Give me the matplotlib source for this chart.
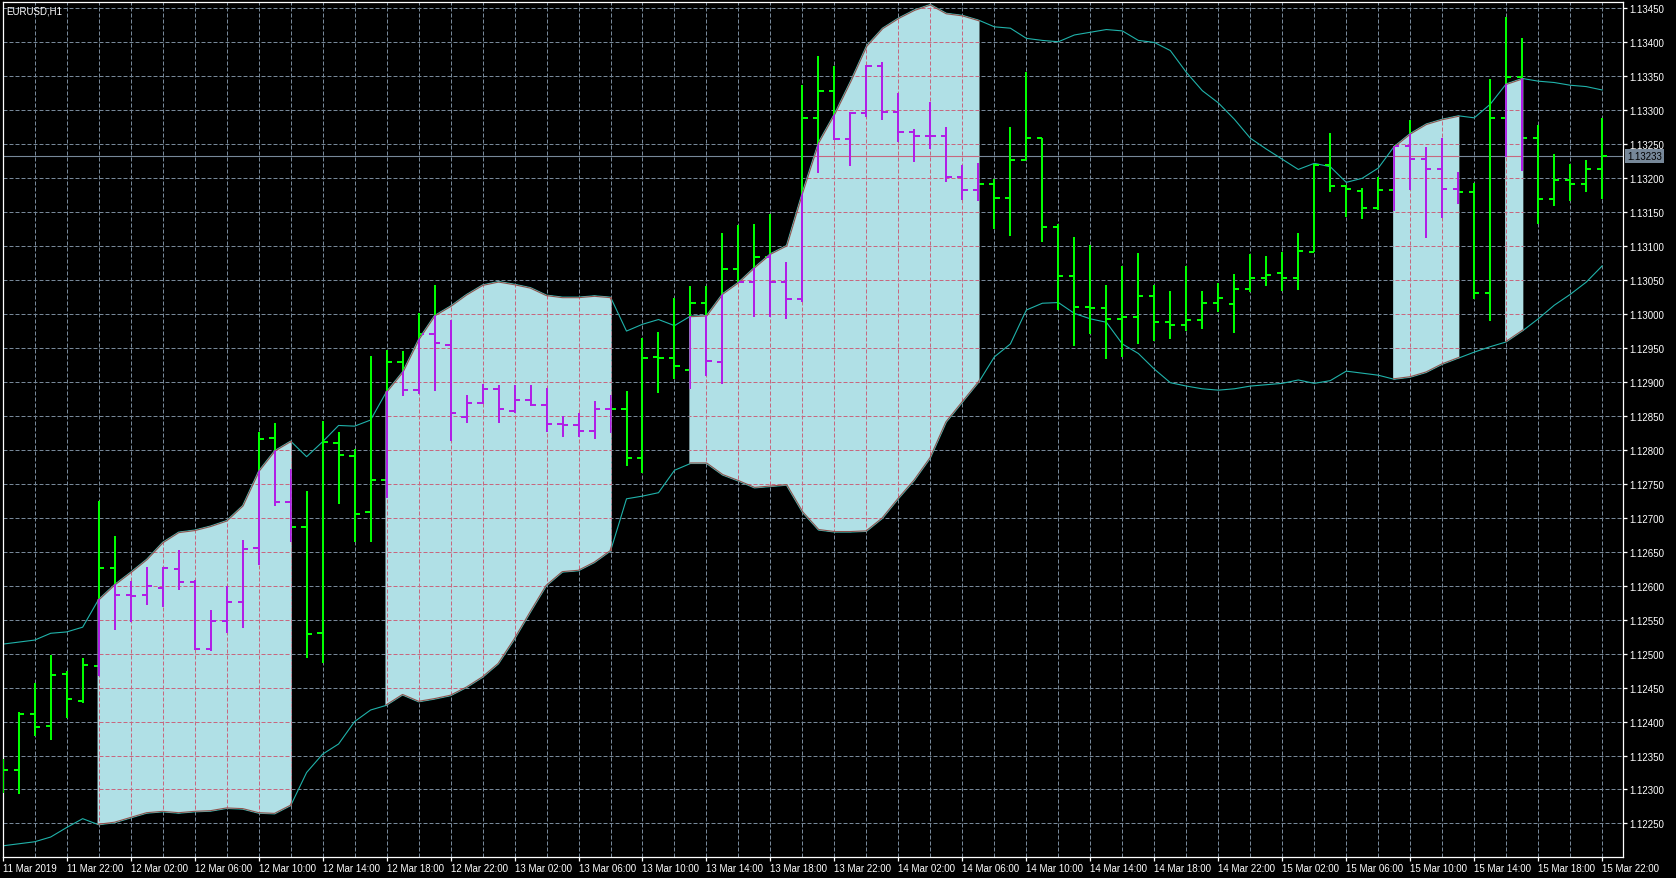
import matplotlib
matplotlib.use("Agg")
import matplotlib.pyplot as plt
import matplotlib.transforms as mtransforms
from matplotlib.collections import LineCollection
from matplotlib.patches import PathPatch
from matplotlib.path import Path

# MT4 風格圖表：EURUSD H1 + 布林通道
plt.rcParams['font.family'] = ['Liberation Sans', 'DejaVu Sans']

# --- 數據 (11 Mar 18:00 -> 15 Mar 22:00, 每小時一根) ---
opens = [1.12310, 1.12328, 1.12411, 1.12394, 1.12470, 1.12431, 1.12482, 1.12626, 1.12586, 1.12586,
         1.12597, 1.12625, 1.12606, 1.12507, 1.12548, 1.12576, 1.12655, 1.12817, 1.12723, 1.12686,
         1.12530, 1.12810, 1.12791, 1.12708, 1.12756, 1.12930, 1.12888, 1.12970, 1.12955, 1.12848,
         1.12869, 1.12890, 1.12857, 1.12873, 1.12866, 1.12838, 1.12836, 1.12828, 1.12860, 1.12860,
         1.12788, 1.12937, 1.12935, 1.12918, 1.13016, 1.12930, 1.13066, 1.13047, 1.13084, 1.13047,
         1.13022, 1.13289, 1.13329, 1.13258, 1.13296, 1.13366, 1.13298, 1.13268, 1.13262, 1.13262,
         1.13202, 1.13183, 1.13191, 1.13171, 1.13227, 1.13259, 1.13128, 1.13056, 1.13011, 1.13009,
         1.12993, 1.12996, 1.13027, 1.12989, 1.12984, 1.12992, 1.13017, 1.13015, 1.13037, 1.13053,
         1.13061, 1.13053, 1.13092, 1.13220, 1.13189, 1.13181, 1.13156, 1.13183, 1.13248, 1.13229,
         1.13214, 1.13184, 1.13180, 1.13031, 1.13289, 1.13349, 1.13260, 1.13169, 1.13197, 1.13192,
         1.13213]
highs = [1.12345, 1.12414, 1.12457, 1.12498, 1.12474, 1.12493, 1.12725, 1.12673, 1.12607, 1.12627,
         1.12627, 1.12652, 1.12608, 1.12565, 1.12600, 1.12668, 1.12827, 1.12840, 1.12772, 1.12740,
         1.12842, 1.12826, 1.12802, 1.12938, 1.12947, 1.12945, 1.13001, 1.13043, 1.12992, 1.12881,
         1.12897, 1.12895, 1.12895, 1.12895, 1.12891, 1.12850, 1.12855, 1.12872, 1.12881, 1.12887,
         1.12965, 1.12973, 1.13023, 1.13042, 1.13042, 1.13120, 1.13131, 1.13132, 1.13148, 1.13076,
         1.13337, 1.13380, 1.13365, 1.13298, 1.13367, 1.13371, 1.13325, 1.13273, 1.13313, 1.13276,
         1.13220, 1.13222, 1.13199, 1.13275, 1.13356, 1.13260, 1.13133, 1.13113, 1.13102, 1.13043,
         1.13071, 1.13090, 1.13043, 1.13034, 1.13071, 1.13034, 1.13046, 1.13059, 1.13088, 1.13085,
         1.13091, 1.13119, 1.13221, 1.13266, 1.13190, 1.13185, 1.13202, 1.13248, 1.13286, 1.13246,
         1.13260, 1.13209, 1.13193, 1.13346, 1.13438, 1.13406, 1.13279, 1.13236, 1.13221, 1.13227,
         1.13289]
lows = [1.12295, 1.12294, 1.12379, 1.12373, 1.12405, 1.12428, 1.12467, 1.12535, 1.12547, 1.12572,
        1.12569, 1.12594, 1.12505, 1.12504, 1.12530, 1.12538, 1.12631, 1.12718, 1.12664, 1.12494,
        1.12486, 1.12721, 1.12664, 1.12665, 1.12729, 1.12879, 1.12883, 1.12887, 1.12813, 1.12840,
        1.12867, 1.12840, 1.12855, 1.12864, 1.12827, 1.12819, 1.12819, 1.12816, 1.12825, 1.12776,
        1.12766, 1.12884, 1.12905, 1.12890, 1.12909, 1.12897, 1.13047, 1.12995, 1.12995, 1.12993,
        1.13018, 1.13208, 1.13257, 1.13218, 1.13290, 1.13286, 1.13254, 1.13224, 1.13243, 1.13194,
        1.13168, 1.13166, 1.13126, 1.13115, 1.13227, 1.13106, 1.13006, 1.12953, 1.12971, 1.12934,
        1.12937, 1.12956, 1.12961, 1.12964, 1.12975, 1.12978, 1.13003, 1.12972, 1.13033, 1.13042,
        1.13034, 1.13036, 1.13091, 1.13180, 1.13143, 1.13140, 1.13153, 1.13152, 1.13183, 1.13112,
        1.13142, 1.13162, 1.13022, 1.12990, 1.13231, 1.13211, 1.13132, 1.13159, 1.13166, 1.13180,
        1.13170]
closes = [1.12328, 1.12411, 1.12392, 1.12468, 1.12433, 1.12483, 1.12626, 1.12586, 1.12585, 1.12600,
          1.12626, 1.12606, 1.12507, 1.12548, 1.12576, 1.12654, 1.12816, 1.12723, 1.12686, 1.12529,
          1.12811, 1.12792, 1.12706, 1.12756, 1.12930, 1.12888, 1.12970, 1.12957, 1.12854, 1.12869,
          1.12890, 1.12860, 1.12873, 1.12866, 1.12838, 1.12836, 1.12828, 1.12860, 1.12860, 1.12788,
          1.12936, 1.12935, 1.12924, 1.13017, 1.12931, 1.13066, 1.13047, 1.13084, 1.13047, 1.13022,
          1.13289, 1.13329, 1.13258, 1.13296, 1.13366, 1.13298, 1.13268, 1.13262, 1.13262, 1.13202,
          1.13183, 1.13191, 1.13171, 1.13227, 1.13259, 1.13128, 1.13056, 1.13011, 1.13009, 1.12993,
          1.12996, 1.13027, 1.12989, 1.12984, 1.12992, 1.13017, 1.13024, 1.13037, 1.13053, 1.13058,
          1.13053, 1.13093, 1.13220, 1.13189, 1.13184, 1.13156, 1.13183, 1.13248, 1.13229, 1.13214,
          1.13184, 1.13180, 1.13031, 1.13289, 1.13349, 1.13260, 1.13169, 1.13197, 1.13192, 1.13213,
          1.13233]
upper_band = [1.12514, 1.12517, 1.12520, 1.12530, 1.12532, 1.12539, 1.12580, 1.12602, 1.12620, 1.12639,
              1.12664, 1.12679, 1.12682, 1.12688, 1.12696, 1.12718, 1.12769, 1.12799, 1.12813, 1.12790,
              1.12812, 1.12836, 1.12835, 1.12844, 1.12886, 1.12915, 1.12963, 1.12998, 1.13012, 1.13029,
              1.13043, 1.13048, 1.13044, 1.13039, 1.13028, 1.13025, 1.13025, 1.13027, 1.13025, 1.12975,
              1.12985, 1.12992, 1.12983, 1.12997, 1.12998, 1.13030, 1.13047, 1.13069, 1.13089, 1.13101,
              1.13180, 1.13253, 1.13295, 1.13343, 1.13395, 1.13421, 1.13436, 1.13448, 1.13456, 1.13443,
              1.13440, 1.13433, 1.13423, 1.13421, 1.13406, 1.13403, 1.13401, 1.13411, 1.13415, 1.13419,
              1.13417, 1.13403, 1.13400, 1.13388, 1.13356, 1.13329, 1.13311, 1.13287, 1.13259, 1.13243,
              1.13228, 1.13213, 1.13222, 1.13217, 1.13194, 1.13200, 1.13215, 1.13247, 1.13266, 1.13280,
              1.13287, 1.13292, 1.13289, 1.13309, 1.13339, 1.13347, 1.13343, 1.13341, 1.13337, 1.13335,
              1.13330]
lower_band = [1.12217, 1.12220, 1.12223, 1.12230, 1.12244, 1.12257, 1.12248, 1.12251, 1.12258, 1.12265,
              1.12267, 1.12265, 1.12267, 1.12268, 1.12272, 1.12271, 1.12265, 1.12264, 1.12276, 1.12325,
              1.12352, 1.12367, 1.12400, 1.12417, 1.12424, 1.12439, 1.12429, 1.12433, 1.12438, 1.12450,
              1.12465, 1.12485, 1.12521, 1.12561, 1.12600, 1.12620, 1.12622, 1.12634, 1.12651, 1.12728,
              1.12732, 1.12737, 1.12770, 1.12780, 1.12780, 1.12763, 1.12754, 1.12744, 1.12746, 1.12748,
              1.12708, 1.12682, 1.12679, 1.12679, 1.12680, 1.12699, 1.12728, 1.12755, 1.12788, 1.12841,
              1.12870, 1.12899, 1.12937, 1.12956, 1.13006, 1.13016, 1.13017, 1.13001, 1.12993, 1.12988,
              1.12956, 1.12942, 1.12919, 1.12899, 1.12894, 1.12890, 1.12888, 1.12890, 1.12894, 1.12896,
              1.12898, 1.12903, 1.12898, 1.12902, 1.12916, 1.12913, 1.12910, 1.12904, 1.12907, 1.12914,
              1.12926, 1.12935, 1.12944, 1.12952, 1.12959, 1.12975, 1.12993, 1.13013, 1.13029, 1.13047,
              1.13071]
# 通道內填色的 K 棒區間 (含頭尾)
fill_ranges = [(6, 18), (24, 38), (43, 61), (87, 91), (94, 95)]
bid_price = 1.13233
time_labels = ['11 Mar 2019', '11 Mar 22:00', '12 Mar 02:00', '12 Mar 06:00', '12 Mar 10:00',
               '12 Mar 14:00', '12 Mar 18:00', '12 Mar 22:00', '13 Mar 02:00', '13 Mar 06:00',
               '13 Mar 10:00', '13 Mar 14:00', '13 Mar 18:00', '13 Mar 22:00', '14 Mar 02:00',
               '14 Mar 06:00', '14 Mar 10:00', '14 Mar 14:00', '14 Mar 18:00', '14 Mar 22:00',
               '15 Mar 02:00', '15 Mar 06:00', '15 Mar 10:00', '15 Mar 14:00', '15 Mar 18:00',
               '15 Mar 22:00']
price_labels = ['1.12250', '1.12300', '1.12350', '1.12400', '1.12450', '1.12500', '1.12550',
                '1.12600', '1.12650', '1.12700', '1.12750', '1.12800', '1.12850', '1.12900',
                '1.12950', '1.13000', '1.13050', '1.13100', '1.13150', '1.13200', '1.13250',
                '1.13300', '1.13350', '1.13400', '1.13450']
price_ticks = [float(p) for p in price_labels]

# 顏色 (MT4 以 XOR 畫在填色區上)
BAR_COLOR = '#00FF00'
BAR_ON_FILL = '#B01FE6'
GRID_COLOR = '#778899'
GRID_ON_FILL = '#C7687F'
BAND_COLOR = '#20B2AA'
BAND_ON_FILL = '#90524C'
FILL_COLOR = '#B0E0E6'

n = len(opens)
XMIN, XMAX = 0.0, 101.32
YMIN, YMAX = 1.12201, 1.13460

fig = plt.figure(figsize=(16.76, 8.79), dpi=100, facecolor='black')
ax = fig.add_axes([0.00161, 0.02423, 0.96695, 0.97270])
ax.set_facecolor('black')

# 填色區 (同時當作剪裁路徑)
verts, codes = [], []
for s, e in fill_ranges:
    xs = [s - 0.07] + list(range(s, e + 1)) + [e + 0.07]
    up = [upper_band[s]] + upper_band[s:e + 1] + [upper_band[e]]
    lo = [lower_band[s]] + lower_band[s:e + 1] + [lower_band[e]]
    pts = list(zip(xs, up)) + list(zip(xs[::-1], lo[::-1]))
    verts += pts + [pts[0]]
    codes += [Path.MOVETO] + [Path.LINETO] * (len(pts) - 1) + [Path.CLOSEPOLY]
fill_patch = PathPatch(Path(verts, codes), facecolor=FILL_COLOR, edgecolor='none', zorder=4)
ax.add_patch(fill_patch)


def draw_grid(color, z, clip=None):
    dash = (0, (4, 2))
    v = ax.vlines(list(range(2, n, 2)), YMIN, YMAX, colors=color, linestyles=[dash],
                  linewidth=0.72, zorder=z)
    h = ax.hlines(price_ticks, XMIN, XMAX, colors=color, linestyles=[dash],
                  linewidth=0.72, zorder=z)
    b = ax.axhline(bid_price, color=color, linewidth=0.8, zorder=z + 0.1)
    if clip is not None:
        for art in (v, h, b):
            art.set_clip_path(clip)


def bar_segments():
    segs = []
    for i in range(n):
        segs.append([(i, lows[i]), (i, highs[i])])
        segs.append([(i - 0.32, opens[i]), (i, opens[i])])
        segs.append([(i, closes[i]), (i + 0.32, closes[i])])
    return segs


draw_grid(GRID_COLOR, 1)
draw_grid(GRID_ON_FILL, 5, clip=fill_patch)

x = list(range(n))
ax.plot(x, upper_band, color=BAND_COLOR, linewidth=0.8, zorder=2)
ax.plot(x, lower_band, color=BAND_COLOR, linewidth=0.8, zorder=2)
for band in (upper_band, lower_band):
    ln, = ax.plot(x, band, color=BAND_ON_FILL, linewidth=1.6, zorder=5)
    ln.set_clip_path(fill_patch)

ax.add_collection(LineCollection(bar_segments(), colors=BAR_COLOR, linewidths=1.44,
                                 capstyle='butt', zorder=3))
on_fill = LineCollection(bar_segments(), colors=BAR_ON_FILL, linewidths=1.44,
                         capstyle='butt', zorder=6)
ax.add_collection(on_fill)
on_fill.set_clip_path(fill_patch)

ax.set_xlim(XMIN, XMAX)
ax.set_ylim(YMIN, YMAX)

# 座標軸樣式
for sp in ax.spines.values():
    sp.set_color('white')
    sp.set_linewidth(0.9)
ax.set_xticks(list(range(0, n, 4)))
ax.set_xticklabels(time_labels)
for lab in ax.get_xticklabels():
    lab.set_horizontalalignment('left')
ax.yaxis.tick_right()
ax.set_yticks(price_ticks)
ax.set_yticklabels(price_labels)
ax.tick_params(axis='both', colors='white', length=3, width=0.9, labelsize=7, pad=1.5)

ax.text(0.0025, 0.9953, 'EURUSD,H1', transform=ax.transAxes, color='white',
        fontsize=7, ha='left', va='top')
trans = mtransforms.blended_transform_factory(ax.transAxes, ax.transData)
ax.text(1.0025, bid_price, '1.13233', transform=trans, color='black', fontsize=7,
        ha='left', va='center', clip_on=False,
        bbox=dict(boxstyle='square,pad=0.2', facecolor=GRID_COLOR, edgecolor='none'))

fig.savefig('out.png', dpi=100, facecolor='black')
